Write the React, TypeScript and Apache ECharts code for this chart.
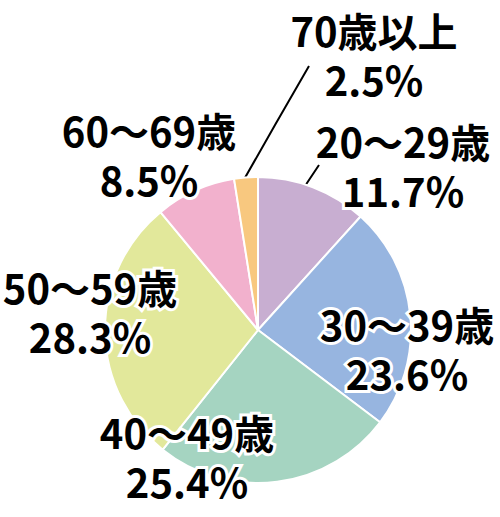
import React, { useEffect, useRef } from "react";
import * as echarts from "echarts";

const categories = ["20～29歳", "30～39歳", "40～49歳", "50～59歳", "60～69歳", "70歳以上"];
const values = [11.7, 23.6, 25.4, 28.3, 8.5, 2.5];
const colors = ["#c8aed1", "#97b5e0", "#a5d4c1", "#e2e89b", "#f2b1cd", "#f8c87f"];

export default function App() {
  const ref = useRef<HTMLDivElement>(null);
  useEffect(() => {
    const chart = echarts.init(ref.current!, null, { renderer: "svg" });
    const labelPos: [number, number][] = [
      [403, 165],
      [407, 348],
      [187, 456],
      [90, 311],
      [149, 154],
      [374, 54],
    ];
    const linePts: Record<number, number[][]> = {
      0: [[295, 202], [307, 183], [319, 165]],
      5: [[242, 183], [275, 125], [309, 66]],
    };
    chart.setOption({
      animation: false,
      series: [
        {
          type: "pie",
          center: [258, 330],
          radius: 153,
          startAngle: 90,
          clockwise: true,
          avoidLabelOverlap: false,
          itemStyle: { borderColor: "#ffffff", borderWidth: 2 },
          label: {
            show: true,
            formatter: "{b}\n{c}%",
            color: "#000",
            fontFamily: "'Noto Sans CJK JP', 'Noto Sans', sans-serif",
            fontSize: 40,
            fontWeight: "bold",
            lineHeight: 49,
            textBorderColor: "#ffffff",
            textBorderWidth: 6,
            align: "center",
          },
          labelLine: { show: false, lineStyle: { color: "#000", width: 2 } },
          labelLayout: (p: any) => {
            const i = p.dataIndex;
            const res: any = {
              x: labelPos[i][0],
              y: labelPos[i][1],
              align: "center",
              verticalAlign: "middle",
            };
            if (linePts[i]) res.labelLinePoints = linePts[i];
            return res;
          },
          data: categories.map((c, i) => ({
            name: c,
            value: values[i],
            itemStyle: { color: colors[i] },
            labelLine: { show: i === 0 || i === 5 },
          })),
        },
      ],
    });
    return () => chart.dispose();
  }, []);
  return (
    <div
      ref={ref}
      style={{ position: "fixed", left: 0, top: 0, width: 500, height: 517, background: "#fff" }}
    />
  );
}
